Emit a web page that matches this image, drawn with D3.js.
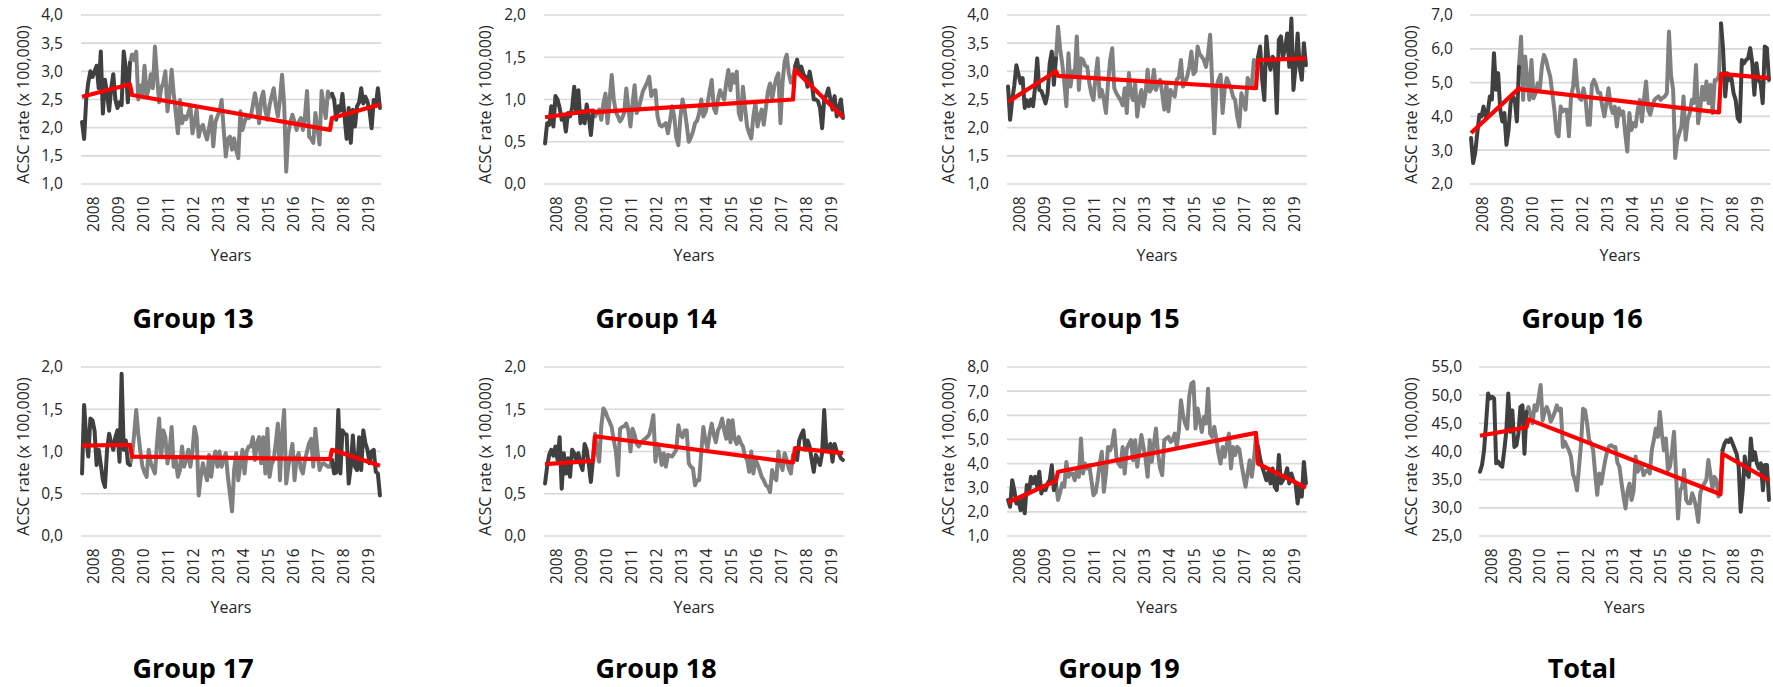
<!DOCTYPE html>
<html>
<head>
<meta charset="utf-8">
<script src="https://cdn.jsdelivr.net/npm/d3@7"></script>
<style>
  body { margin: 0; background: #fff; }
  text { font-family: "Open Sans", sans-serif; fill: #262626; }
</style>
</head>
<body>
<div id="charts"></div>
<script>
// monthly ACSC rates, 144 months per group (index 0..143)
const years = ["2008", "2009", "2010", "2011", "2012", "2013", "2014", "2015", "2016", "2017", "2018", "2019"];
const groupNames = ["Group 13", "Group 14", "Group 15", "Group 16", "Group 17", "Group 18", "Group 19", "Total"];

const g13 = [
  2.1, 1.8, 2.5, 2.8, 3.0, 2.9, 3.0, 3.1, 2.7, 3.35, 2.25, 2.85,
  2.6, 2.3, 2.7, 2.95, 2.5, 2.35, 2.45, 2.4, 3.35, 3.05, 2.45, 3.15,
  3.3, 3.2, 3.35, 2.5, 2.75, 2.6, 3.1, 2.55, 2.7, 2.95, 2.7, 3.44,
  2.9, 2.45, 2.7, 2.8, 3.0, 2.29, 2.6, 3.03, 2.6, 2.26, 1.9, 2.49,
  2.08, 2.2, 2.15, 2.26, 2.38, 1.9, 2.1, 2.32, 1.84, 2.0, 2.05, 1.9,
  1.79, 2.0, 2.2, 1.67, 2.1, 2.2, 2.3, 2.49, 1.96, 1.49, 1.8, 1.84,
  1.61, 1.81, 1.6, 1.46, 2.29, 1.96, 2.1, 2.2, 2.17, 2.2, 2.4, 2.61,
  2.4, 2.08, 2.5, 2.64, 2.3, 2.14, 2.4, 2.55, 2.7, 2.4, 2.2, 2.5,
  2.94, 2.43, 1.22, 1.9, 2.1, 2.23, 2.1, 1.96, 2.1, 2.17, 1.96, 2.2,
  2.65, 1.84, 1.8, 1.73, 2.26, 2.0, 1.7, 2.65, 2.4, 2.17, 2.64, 2.55,
  2.6, 2.5, 2.14, 2.38, 2.3, 2.6, 2.2, 1.8, 2.35, 1.73, 2.32, 2.02,
  2.38, 2.45, 2.7, 2.43, 2.55, 2.46, 2.3, 1.99, 2.49, 2.38, 2.7, 2.35
];
const g14 = [
  0.48, 0.72, 0.7, 0.92, 0.68, 1.04, 1.0, 0.9, 0.76, 0.8, 0.62, 0.84,
  0.8, 0.9, 1.15, 0.84, 1.11, 0.72, 0.86, 0.72, 0.94, 0.8, 0.58, 0.84,
  0.8, 0.85, 0.88, 0.76, 0.95, 1.07, 0.72, 1.0, 1.29, 1.0, 0.85, 0.8,
  0.74, 0.78, 0.84, 1.13, 0.9, 0.68, 0.95, 1.17, 0.84, 0.9, 1.0, 1.1,
  1.15, 1.2, 1.27, 1.04, 1.1, 1.11, 0.8, 0.7, 0.68, 0.7, 0.72, 0.6,
  0.75, 0.92, 0.8, 0.55, 0.46, 0.8, 1.0, 0.88, 0.7, 0.5, 0.55, 0.62,
  0.72, 0.75, 0.84, 1.0, 0.8, 0.85, 0.95, 1.1, 1.23, 0.9, 0.84, 1.0,
  1.11, 1.05, 1.0, 1.2, 1.35, 1.11, 1.3, 1.2, 1.33, 0.84, 0.76, 1.15,
  0.9, 0.68, 0.6, 0.54, 0.8, 0.96, 0.68, 0.8, 0.88, 0.7, 0.9, 1.1,
  1.19, 1.0, 1.15, 1.25, 1.31, 0.72, 1.2, 1.45, 1.53, 1.31, 1.2, 1.23,
  1.39, 1.47, 1.31, 1.39, 1.3, 1.27, 1.15, 1.33, 1.2, 1.0, 1.0, 0.98,
  0.9, 0.66, 1.0, 1.05, 1.13, 1.0, 0.88, 1.04, 0.8, 0.9, 1.0, 0.78
];
const g15 = [
  2.73, 2.14, 2.49, 2.75, 3.11, 2.95, 2.79, 2.88, 2.35, 2.49, 2.38, 2.5,
  2.38, 2.73, 3.23, 2.67, 2.65, 2.55, 2.43, 2.61, 3.14, 3.35, 2.76, 3.23,
  3.79, 3.4, 3.14, 2.8, 2.38, 3.32, 2.73, 3.0, 2.9, 3.62, 2.67, 3.23,
  3.2, 3.1, 3.08, 2.8, 2.6, 2.49, 2.9, 3.23, 2.55, 2.67, 2.5, 2.26,
  2.8, 3.2, 3.41, 2.7, 2.61, 2.55, 2.49, 2.4, 2.7, 2.26, 2.97, 2.6,
  2.49, 2.79, 2.2, 2.5, 2.67, 2.38, 2.6, 3.03, 2.64, 2.7, 3.03, 2.67,
  2.8, 2.85, 2.61, 2.32, 2.79, 2.29, 2.67, 2.6, 2.55, 2.85, 2.9, 3.2,
  2.73, 2.8, 2.91, 3.08, 3.35, 2.95, 3.0, 3.44, 3.3, 3.26, 3.2, 3.08,
  3.3, 3.65, 2.8, 1.9, 2.73, 2.85, 2.94, 2.26, 2.7, 2.88, 2.79, 2.7,
  2.55, 2.49, 2.2, 2.02, 2.61, 2.45, 2.32, 2.88, 2.8, 2.73, 3.2, 3.1,
  3.25, 3.44, 2.85, 2.49, 3.62, 3.2, 3.03, 3.26, 3.2, 2.26, 3.56, 3.62,
  3.26, 3.4, 3.67, 3.08, 3.94, 2.67, 3.08, 3.67, 3.08, 2.85, 3.5, 3.11
];
const g16 = [
  3.36, 2.62, 2.92, 3.51, 4.05, 4.0, 4.29, 4.0, 4.1, 4.59, 4.5, 5.87,
  4.79, 5.28, 4.2, 3.85, 4.1, 3.16, 3.6, 4.39, 4.59, 4.49, 3.85, 5.47,
  6.36, 4.49, 5.77, 5.08, 4.49, 5.67, 4.54, 4.69, 4.98, 4.8, 5.47, 5.82,
  5.67, 5.4, 5.18, 4.69, 4.2, 3.51, 3.41, 4.29, 4.15, 4.2, 4.2, 3.41,
  4.59, 4.88, 5.67, 4.88, 4.54, 4.49, 4.83, 4.5, 3.75, 3.75, 4.93, 5.08,
  4.93, 4.7, 4.69, 4.3, 4.0, 4.4, 4.83, 4.3, 4.1, 4.29, 3.7, 4.24,
  4.05, 4.15, 3.5, 2.96, 4.1, 3.6, 3.8, 3.7, 4.2, 4.49, 3.85, 4.5,
  5.03, 4.2, 4.05, 4.3, 4.49, 4.55, 4.59, 4.49, 4.55, 4.59, 4.69, 6.51,
  5.2, 4.79, 2.77, 3.3, 3.51, 3.7, 4.59, 3.31, 3.9, 4.1, 4.49, 4.4,
  5.52, 3.8, 4.2, 4.88, 4.49, 5.03, 4.39, 4.93, 4.1, 5.08, 5.08, 5.2,
  6.75, 5.97, 4.59, 5.28, 5.08, 5.13, 4.69, 4.49, 3.95, 3.85, 5.67, 5.57,
  5.67, 5.72, 6.02, 5.57, 4.64, 5.57, 5.08, 4.98, 4.39, 6.07, 6.02, 5.08
];
const g17 = [
  0.74, 1.55, 1.17, 0.94, 1.39, 1.37, 1.25, 0.84, 1.02, 0.85, 0.66, 0.58,
  1.02, 1.21, 1.1, 1.02, 1.17, 1.25, 0.88, 1.92, 1.02, 1.13, 0.86, 0.84,
  0.95, 1.2, 1.49, 1.21, 1.0, 0.82, 0.75, 0.7, 1.02, 0.86, 0.8, 0.74,
  1.1, 1.39, 0.94, 1.25, 1.17, 0.86, 1.0, 1.29, 0.82, 0.9, 0.7, 0.78,
  1.06, 0.82, 0.9, 1.02, 0.82, 1.0, 1.29, 1.17, 0.48, 0.7, 0.86, 0.75,
  0.66, 0.96, 0.7, 0.9, 1.0, 0.82, 1.0, 0.82, 0.9, 0.98, 0.7, 0.5,
  0.29, 0.78, 0.98, 0.66, 0.85, 1.02, 0.74, 1.0, 1.06, 1.06, 1.17, 0.9,
  1.1, 1.17, 0.86, 1.17, 0.74, 1.27, 0.7, 0.85, 0.9, 1.1, 1.33, 0.66,
  1.2, 1.49, 0.62, 0.82, 0.95, 1.09, 0.66, 0.92, 0.98, 0.8, 0.74, 0.9,
  1.0, 1.1, 1.15, 0.82, 1.27, 1.0, 0.78, 0.85, 0.86, 0.84, 0.82, 0.82,
  0.9, 0.74, 0.75, 1.49, 0.74, 1.25, 1.21, 1.2, 0.62, 0.82, 1.19, 0.82,
  0.78, 1.17, 0.78, 1.25, 1.1, 1.02, 0.86, 1.0, 1.02, 0.76, 0.74, 0.48
];
const g18 = [
  0.62, 0.82, 0.96, 1.02, 0.95, 1.06, 0.9, 1.17, 0.56, 0.98, 0.74, 0.92,
  0.7, 1.02, 0.98, 0.9, 0.98, 0.85, 0.78, 1.09, 1.02, 0.85, 0.64, 0.9,
  1.21, 1.0, 0.88, 1.3, 1.51, 1.47, 1.4, 1.35, 1.29, 1.13, 1.0, 0.72,
  1.27, 1.29, 1.3, 1.33, 1.25, 1.0, 1.27, 1.2, 1.09, 1.06, 1.1, 1.13,
  1.15, 1.17, 1.2, 1.3, 1.43, 0.88, 1.09, 1.0, 0.84, 0.98, 0.82, 0.96,
  0.95, 0.94, 0.98, 1.02, 1.31, 1.2, 1.17, 1.25, 1.25, 0.86, 0.82, 0.8,
  0.6, 0.66, 0.66, 1.0, 1.29, 1.13, 1.04, 1.2, 1.33, 1.2, 1.11, 1.25,
  1.3, 1.39, 1.25, 1.15, 1.37, 1.11, 1.37, 1.15, 1.09, 1.17, 1.1, 1.06,
  0.94, 0.9, 0.76, 1.0, 0.74, 0.9, 0.85, 0.78, 0.7, 0.66, 0.6, 0.58,
  0.52, 0.78, 0.7, 0.66, 1.0, 0.85, 0.78, 0.98, 0.9, 0.8, 0.74, 0.96,
  0.92, 0.9, 1.13, 1.2, 1.25, 1.02, 1.13, 1.06, 0.9, 0.76, 0.96, 0.9,
  0.84, 0.98, 1.49, 1.02, 1.06, 1.09, 0.88, 1.09, 1.0, 0.98, 0.92, 0.9
];
const g19 = [
  2.49, 2.21, 3.31, 2.9, 2.35, 2.49, 2.07, 2.5, 1.94, 3.11, 2.76, 3.45,
  3.18, 3.45, 3.04, 3.66, 2.76, 3.04, 2.9, 3.18, 3.31, 3.93, 2.9, 3.18,
  2.49, 2.8, 3.18, 3.04, 4.07, 3.45, 3.6, 3.59, 3.31, 3.73, 3.45, 5.04,
  3.59, 4.0, 3.8, 3.93, 3.31, 2.69, 2.8, 3.31, 4.0, 4.49, 2.83, 3.59,
  4.69, 4.55, 4.8, 5.38, 4.28, 4.0, 3.87, 4.69, 3.59, 4.62, 4.8, 4.97,
  4.14, 4.97, 3.87, 4.5, 5.18, 4.69, 4.2, 3.45, 4.97, 4.07, 4.8, 5.45,
  4.42, 3.8, 3.52, 4.97, 5.04, 5.11, 4.9, 4.97, 5.24, 4.69, 5.38, 6.62,
  6.0, 5.66, 5.45, 6.8, 7.31, 7.38, 5.45, 6.28, 5.8, 5.31, 5.93, 5.66,
  7.1, 5.24, 5.11, 5.52, 5.0, 4.42, 4.0, 4.69, 4.28, 4.8, 5.24, 3.8,
  4.69, 4.35, 4.69, 4.6, 4.0, 3.5, 3.04, 3.6, 4.14, 3.45, 4.14, 5.11,
  4.69, 4.2, 3.87, 3.59, 3.31, 3.66, 3.18, 3.8, 3.04, 2.9, 4.35, 3.18,
  3.31, 3.5, 3.8, 3.18, 3.59, 3.31, 3.18, 2.35, 3.04, 2.63, 4.07, 3.18
];
const gTotal = [
  36.4, 37.6, 40.2, 45.0, 50.3, 49.4, 49.7, 49.4, 37.9, 38.2, 37.6, 37.3,
  40.2, 43.5, 50.3, 43.5, 47.3, 40.8, 41.1, 43.2, 47.9, 48.2, 39.6, 47.0,
  47.9, 46.5, 45.0, 48.2, 47.3, 49.5, 51.8, 45.5, 47.0, 47.9, 47.0, 45.3,
  46.1, 47.0, 48.2, 47.3, 47.6, 40.8, 41.7, 40.9, 40.2, 39.1, 36.0, 34.9,
  33.1, 37.3, 41.4, 47.6, 47.3, 45.0, 42.0, 41.5, 40.2, 36.0, 32.3, 36.1,
  34.3, 36.5, 38.5, 40.2, 41.0, 41.1, 40.8, 40.8, 38.0, 37.3, 34.5, 32.0,
  29.9, 33.0, 34.3, 31.4, 33.0, 39.1, 36.4, 37.3, 37.3, 35.8, 36.5, 36.7,
  36.1, 40.2, 42.0, 44.1, 42.6, 47.0, 43.2, 40.2, 42.3, 36.7, 37.3, 40.0,
  43.5, 36.0, 28.1, 33.0, 33.7, 36.7, 31.4, 30.8, 30.8, 32.6, 31.5, 30.0,
  27.5, 32.6, 33.7, 34.3, 35.0, 38.5, 36.0, 33.4, 35.5, 34.9, 32.0, 33.5,
  40.2, 41.4, 42.0, 41.7, 42.3, 41.4, 40.5, 39.6, 37.3, 29.3, 33.1, 39.1,
  36.1, 35.5, 42.3, 38.5, 39.9, 37.9, 37.0, 37.9, 33.1, 37.6, 37.6, 31.4
];

// segmented regression fit: [start, end] of pre, mid and post periods
const t13 = [2.55, 2.77, 2.58, 1.96, 2.17, 2.41];
const t14 = [0.79, 0.87, 0.85, 1.0, 1.35, 0.79];
const t15 = [2.46, 3.0, 2.92, 2.7, 3.2, 3.23];
const t16 = [3.51, 4.83, 4.8, 4.12, 5.26, 5.13];
const t17 = [1.07, 1.08, 0.94, 0.91, 1.02, 0.83];
const t18 = [0.85, 0.89, 1.18, 0.87, 1.04, 0.98];
const t19 = [2.39, 3.29, 3.66, 5.27, 4.0, 3.0];
const tTotal = [42.8, 44.3, 45.7, 32.4, 39.6, 34.9];
const trendMonths = [0, 23, 24, 119, 120, 143];

const ticks13 = [1.0, 1.5, 2.0, 2.5, 3.0, 3.5, 4.0];
const ticks14 = [0.0, 0.5, 1.0, 1.5, 2.0];
const ticks15 = [1.0, 1.5, 2.0, 2.5, 3.0, 3.5, 4.0];
const ticks16 = [2.0, 3.0, 4.0, 5.0, 6.0, 7.0];
const ticks17 = [0.0, 0.5, 1.0, 1.5, 2.0];
const ticks18 = [0.0, 0.5, 1.0, 1.5, 2.0];
const ticks19 = [1.0, 2.0, 3.0, 4.0, 5.0, 6.0, 7.0, 8.0];
const ticksTotal = [25.0, 30.0, 35.0, 40.0, 45.0, 50.0, 55.0];

const seriesList = [g13, g14, g15, g16, g17, g18, g19, gTotal];
const trendList = [t13, t14, t15, t16, t17, t18, t19, tTotal];
const tickList = [ticks13, ticks14, ticks15, ticks16, ticks17, ticks18, ticks19, ticksTotal];

// panel placement (pixels)
const layout = [
  {x0: 81,   x1: 381,  labX: 63,   titleX: 23,   nameX: 193},
  {x0: 544,  x1: 844,  labX: 526,  titleX: 485,  nameX: 656},
  {x0: 1007, x1: 1307, labX: 989,  titleX: 948,  nameX: 1119},
  {x0: 1470, x1: 1770, labX: 1453, titleX: 1411, nameX: 1582},
  {x0: 81,   x1: 381,  labX: 63,   titleX: 23,   nameX: 193},
  {x0: 544,  x1: 844,  labX: 526,  titleX: 485,  nameX: 656},
  {x0: 1007, x1: 1307, labX: 989,  titleX: 948,  nameX: 1119},
  {x0: 1479, x1: 1770, labX: 1462, titleX: 1411, nameX: 1582}
];
const rows = [{top: 15, bottom: 184, nameY: 328}, {top: 367, bottom: 536, nameY: 678}];

const fmt = v => d3.format(".1f")(v).replace(".", ",");

const svg = d3.select("#charts").append("svg")
  .attr("width", 1773)
  .attr("height", 687);

function drawPanel(k) {
  const values = seriesList[k], trend = trendList[k], ticks = tickList[k];
  const pos = layout[k], row = rows[k < 4 ? 0 : 1];

  const x = d3.scaleLinear().domain([0, 144]).range([pos.x0, pos.x1]);
  const y = d3.scaleLinear().domain(d3.extent(ticks)).range([row.bottom, row.top]);

  const g = svg.append("g");

  // gridlines + y labels
  g.selectAll(".grid").data(ticks).enter().append("line")
    .attr("x1", pos.x0).attr("x2", pos.x1)
    .attr("y1", d => y(d)).attr("y2", d => y(d))
    .attr("stroke", "#d9d9d9").attr("stroke-width", 1.7);

  g.selectAll(".ylab").data(ticks).enter().append("text")
    .attr("x", pos.labX).attr("y", d => y(d))
    .attr("dy", "0.35em")
    .attr("text-anchor", "end")
    .style("font-size", "15.5px")
    .text(fmt);

  // year labels, rotated
  g.selectAll(".xlab").data(years).enter().append("text")
    .attr("transform", (d, i) => `translate(${x(i * 12 + 6)},${row.bottom + 12.5}) rotate(-90)`)
    .attr("dy", "0.35em")
    .attr("text-anchor", "end")
    .style("font-size", "15.5px")
    .text(d => d);

  g.append("text")
    .attr("x", (pos.x0 + pos.x1) / 2).attr("y", row.bottom + 71)
    .attr("dy", "0.35em")
    .attr("text-anchor", "middle")
    .style("font-size", "16px")
    .text("Years");

  g.append("text")
    .attr("transform", `translate(${pos.titleX},${(row.top + row.bottom) / 2 + 5}) rotate(-90)`)
    .attr("dy", "0.35em")
    .attr("text-anchor", "middle")
    .style("font-size", "16px")
    .text("ACSC rate (x 100,000)");

  const line = d3.line()
    .x(d => x(d[0] + 0.5))
    .y(d => y(d[1]));

  const pts = values.map((v, i) => [i, v]);

  // middle period in grey, before/after periods dark
  g.append("path")
    .attr("d", line(pts.slice(23, 121)))
    .attr("fill", "none").attr("stroke", "#808080")
    .attr("stroke-width", 4).attr("stroke-linejoin", "round").attr("stroke-linecap", "round");

  [pts.slice(0, 24), pts.slice(120)].forEach(seg => {
    g.append("path")
      .attr("d", line(seg))
      .attr("fill", "none").attr("stroke", "#404040")
      .attr("stroke-width", 4).attr("stroke-linejoin", "round").attr("stroke-linecap", "round");
  });

  g.append("path")
    .attr("d", line(trendMonths.map((m, i) => [m, trend[i]])))
    .attr("fill", "none").attr("stroke", "#ff0000")
    .attr("stroke-width", 4.2).attr("stroke-linejoin", "round");

  g.append("text")
    .attr("x", pos.nameX).attr("y", row.nameY)
    .attr("text-anchor", "middle")
    .style("font-size", "27px")
    .style("font-weight", "bold")
    .style("fill", "#000")
    .text(groupNames[k]);
}

for (let k = 0; k < 8; k++) drawPanel(k);
</script>
</body>
</html>
